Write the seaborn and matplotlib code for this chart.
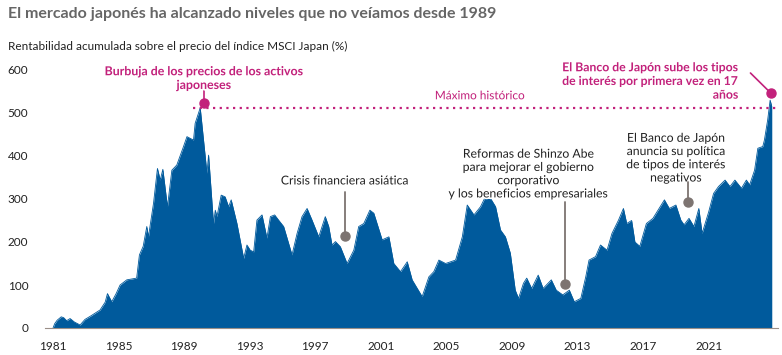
import numpy as np
import pandas as pd
import matplotlib
matplotlib.use("Agg")
import matplotlib.pyplot as plt
import matplotlib.patheffects as pe
import seaborn as sns

# serie (año decimal, rentabilidad acumulada %)
years = [1981.0, 1981.1, 1981.25, 1981.5, 1981.65, 1981.83, 1982.04, 1982.3, 1982.65, 1982.95,
         1983.3, 1983.87, 1984.18, 1984.32, 1984.58, 1984.85, 1985.09, 1985.5, 1986.1, 1986.27,
         1986.5, 1986.72, 1986.82, 1987.13, 1987.37, 1987.54, 1987.7, 1987.98, 1988.25, 1988.55,
         1988.96, 1989.17, 1989.57, 1989.67, 1989.98, 1990.2, 1990.39, 1990.49, 1990.79, 1990.9,
         1991.0, 1991.26, 1991.5, 1991.71, 1991.87, 1992.22, 1992.63, 1992.83, 1993.03, 1993.24,
         1993.44, 1993.75, 1994.05, 1994.26, 1994.52, 1994.76, 1995.07, 1995.58, 1995.89, 1996.19,
         1996.5, 1996.8, 1997.21, 1997.61, 1997.82, 1998.02, 1998.23, 1998.53, 1998.94, 1999.35,
         1999.65, 1999.96, 2000.33, 2000.57, 2001.08, 2001.49, 2001.79, 2002.2, 2002.61, 2002.91,
         2003.52, 2003.93, 2004.23, 2004.54, 2004.95, 2005.56, 2005.97, 2006.27, 2006.68, 2007.08,
         2007.49, 2008.0, 2008.3, 2008.6, 2008.9, 2009.2, 2009.4, 2009.7, 2009.9, 2010.2,
         2010.6, 2010.9, 2011.4, 2011.7, 2012.1, 2012.5, 2012.8, 2013.2, 2013.5, 2013.7,
         2014.1, 2014.4, 2014.8, 2015.1, 2015.5, 2015.8, 2016.0, 2016.3, 2016.5, 2016.8,
         2017.2, 2017.6, 2018.3, 2018.6, 2019.0, 2019.3, 2019.5, 2019.8, 2020.1, 2020.4,
         2020.6, 2021.0, 2021.3, 2021.6, 2022.0, 2022.3, 2022.6, 2023.0, 2023.3, 2023.5,
         2023.8, 2024.0, 2024.3, 2024.4, 2024.6, 2024.75, 2024.85]
values = [0, 10, 18, 26, 24, 17, 22, 14, 7, 20,
          28, 42, 60, 80, 61, 80, 100, 112, 116, 170,
          190, 236, 212, 290, 371, 344, 369, 282, 367, 379,
          422, 445, 437, 476, 512, 430, 360, 402, 243, 274,
          259, 309, 305, 282, 298, 243, 162, 193, 181, 177,
          251, 263, 209, 259, 263, 251, 236, 170, 220, 259,
          278, 251, 212, 259, 236, 193, 201, 189, 150, 181,
          236, 243, 274, 267, 205, 212, 150, 131, 154, 112,
          73, 119, 131, 158, 150, 158, 212, 286, 263, 282,
          314, 282, 228, 212, 174, 88, 69, 104, 116, 92,
          123, 92, 112, 88, 77, 88, 61, 69, 119, 158,
          166, 193, 181, 220, 251, 278, 243, 250, 200, 190,
          243, 255, 298, 278, 286, 251, 240, 255, 236, 278,
          220, 270, 313, 329, 344, 329, 344, 325, 344, 333,
          367, 418, 422, 437, 484, 530, 515]

tick_years = [1981, 1985, 1989, 1993, 1997, 2001, 2005, 2009, 2013, 2017, 2021]
y_ticks = [0, 100, 200, 300, 400, 500, 600]

max_hist = 512

# anotaciones: texto, posición del texto, arranque de la línea, punto marcado
ann_grey = [
    ("Crisis financiera asiática", 1998.8, 342, 316, 1998.8, 214),
    ("Reformas de Shinzo Abe\npara mejorar el gobierno\ncorporativo\ny los beneficios empresariales",
     2010.0, 358, 293, 2012.24, 102),
    ("El Banco de Japón\nanuncia su política\nde tipos de interés\nnegativos",
     2019.0, 395, 340, 2019.76, 293),
]

blue = "#005a9c"
magenta = "#c2217b"
grey = "#7d7471"

df = pd.DataFrame({"year": years, "value": values})

sns.set_style("white")
plt.rcParams["font.family"] = ["Lato", "DejaVu Sans"]

fig = plt.figure(figsize=(7.82, 3.55), dpi=100)
ax = fig.add_axes([45 / 782, 27 / 355, 733 / 782, 258 / 355])

sns.lineplot(data=df, x="year", y="value", color=blue, linewidth=0.6, ax=ax)
ax.fill_between(df["year"], df["value"], color=blue, linewidth=0)

ax.set_xlim(1980.51, 2025.23)
ax.set_ylim(0, 600)
ax.set_xticks(tick_years)
ax.set_yticks(y_ticks)
ax.tick_params(length=0, labelsize=8.5, colors="#222222")
ax.tick_params(axis="y", pad=12)
ax.tick_params(axis="x", pad=9)
ax.set_xlabel("")
ax.set_ylabel("")
for s in ["top", "right", "left"]:
    ax.spines[s].set_visible(False)
ax.spines["bottom"].set_color("#9a8f88")
ax.spines["bottom"].set_linewidth(0.8)

halo = [pe.withStroke(linewidth=2.5, foreground="white")]

# máximo histórico
ax.plot([1989.55, 2025.1], [max_hist, max_hist], linestyle=(0, (1, 2)), color=magenta,
        linewidth=1.6, clip_on=False)
ax.text(2007.05, 540, "Máximo histórico", color=magenta, fontsize=8.5, ha="center",
        va="center", path_effects=halo)

# burbuja
ax.plot([1990.2, 1990.2], [560, 523], color=magenta, linewidth=1.2, clip_on=False)
ax.plot([1990.2], [523], "o", color=magenta, markersize=6.5, clip_on=False)
ax.text(1990.2, 580, "Burbuja de los precios de los activos\njaponeses", color=magenta,
        fontsize=8.9, fontweight="bold", ha="center", va="center", linespacing=1.3,
        path_effects=halo)

# subida de tipos 2024
ax.plot([2023.55, 2024.8], [593, 546], color=magenta, linewidth=1.2, clip_on=False)
ax.plot([2024.8], [546], "o", color=magenta, markersize=6.5, clip_on=False)
ax.text(2022.8, 618, "El Banco de Japón sube los tipos\nde interés por primera vez en 17\naños",
        color=magenta, fontsize=8.8, fontweight="bold", ha="right", va="top",
        linespacing=1.3, path_effects=halo, zorder=5)

for txt, tx, ty, ly, px, py in ann_grey:
    ax.plot([px, px], [ly, py], color=grey, linewidth=1.3, zorder=3)
    ax.plot([px], [py], "o", color=grey, markersize=6.5, zorder=4)
    ax.text(tx, ty, txt, color="#222222", fontsize=8.8, ha="center", va="center",
            linespacing=1.25, path_effects=halo, zorder=2)

fig.text(8 / 782, 1 - 14 / 355, "El mercado japonés ha alcanzado niveles que no veíamos desde 1989",
         fontsize=11.5, fontweight="bold", color="#666666", ha="left", va="center")
fig.text(8 / 782, 1 - 46 / 355, "Rentabilidad acumulada sobre el precio del índice MSCI Japan (%)",
         fontsize=8.5, color="#222222", ha="left", va="center")

fig.savefig("out.png", dpi=100)
